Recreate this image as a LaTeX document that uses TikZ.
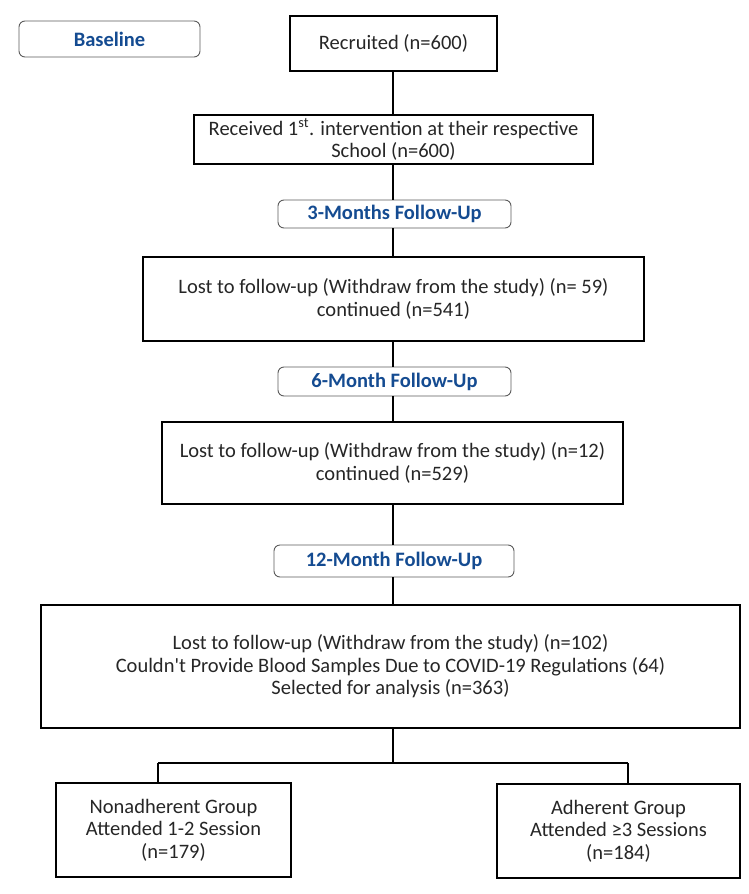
\documentclass[tikz,border=0pt]{standalone}
\usepackage{fontspec}
\setmainfont{Carlito}[Ligatures=TeXOff]
\definecolor{headblue}{RGB}{20,75,145}
\definecolor{rbord}{RGB}{90,90,90}
\begin{document}
\begin{tikzpicture}[x=1pt,y=-1pt,
  box/.style={draw=black,line width=1.6pt,align=center,inner sep=0pt,font=\fontsize{20.5}{22.5}\selectfont,text=black!85},
  phase/.style={draw=rbord,line width=0.9pt,rounded corners=6pt,align=center,inner sep=0pt,font=\fontsize{20.5}{22.5}\selectfont\bfseries,text=headblue},
  conn/.style={draw=black,line width=1.6pt}]
\useasboundingbox (0,0) rectangle (748,894);
\node[phase,minimum width=181pt,minimum height=36pt] (base) at (109.5,39) {Baseline};
\node[box,minimum width=207pt,minimum height=55pt] (rec) at (393.5,43.5) {Recruited (n=600)};
\node[box,minimum width=399pt,minimum height=49pt] (recv) at (393.5,139.5) {Received 1\textsuperscript{st}. intervention at their respective\\School (n=600)};
\node[phase,minimum width=233pt,minimum height=28pt] (m3) at (394.5,214) {3-Months Follow-Up};
\node[box,minimum width=501pt,minimum height=84pt] (l1) at (393.5,299) {Lost to follow-up (Withdraw from the study) (n= 59)\\continued (n=541)};
\node[phase,minimum width=233pt,minimum height=29pt] (m6) at (394.5,381.5) {6-Month Follow-Up};
\node[box,minimum width=461pt,minimum height=82pt] (l2) at (392.5,463) {Lost to follow-up (Withdraw from the study) (n=12)\\continued (n=529)};
\node[phase,minimum width=240pt,minimum height=32pt] (m12) at (394,561) {12-Month Follow-Up};
\node[box,minimum width=699pt,minimum height=123pt] (l3) at (390.5,666.5) {Lost to follow-up (Withdraw from the study) (n=102)\\Couldn't Provide Blood Samples Due to COVID-19 Regulations (64)\\Selected for analysis (n=363)};
\node[box,minimum width=235pt,minimum height=94pt] (left) at (173.5,830) {Nonadherent Group\\Attended 1-2 Session\\(n=179)};
\node[box,minimum width=243pt,minimum height=94pt] (right) at (618.5,831) {Adherent Group\\Attended ≥3 Sessions\\(n=184)};
\coordinate (split) at (393,763);
\coordinate (lsplit) at (158,763);
\coordinate (rsplit) at (628,763);
\draw[conn] (rec.south -| split) -- (recv.north -| split);
\draw[conn] (recv.south -| split) -- (m3.north -| split);
\draw[conn] (m3.south -| split) -- (l1.north -| split);
\draw[conn] (l1.south -| split) -- (m6.north -| split);
\draw[conn] (m6.south -| split) -- (l2.north -| split);
\draw[conn] (l2.south -| split) -- (m12.north -| split);
\draw[conn] (m12.south -| split) -- (l3.north -| split);
\draw[conn] (l3.south -| split) -- (split);
\draw[conn] (lsplit) -- (rsplit);
\draw[conn] (lsplit) -- (left.north -| lsplit);
\draw[conn] (rsplit) -- (right.north -| rsplit);
\end{tikzpicture}
\end{document}
